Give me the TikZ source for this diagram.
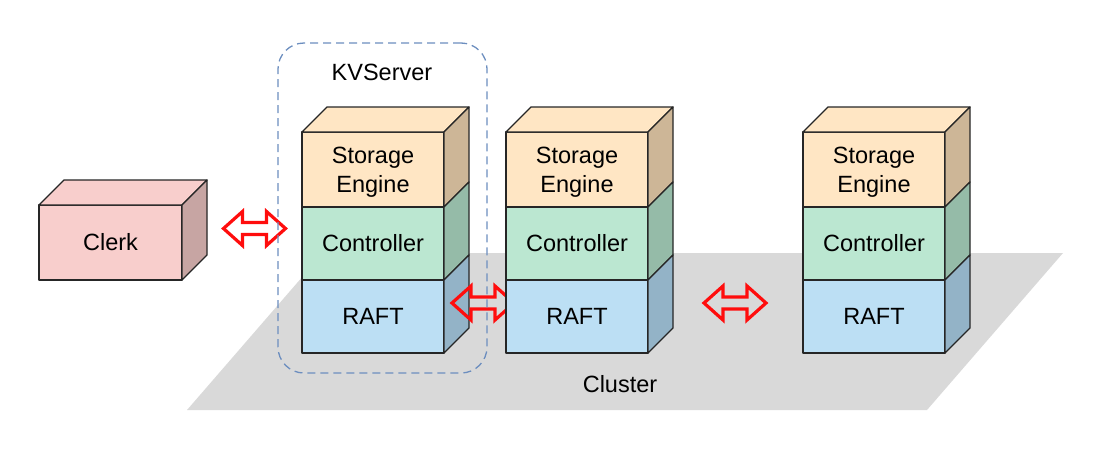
\documentclass[tikz,border=0pt]{standalone}
\usepackage{fontspec}
\setmainfont{Liberation Sans}
\usetikzlibrary{calc}
\definecolor{planegray}{HTML}{D9D9D9}
\definecolor{sefront}{HTML}{FFE6C4}
\definecolor{seside}{HTML}{CDB697}
\definecolor{ctfront}{HTML}{BBE7D1}
\definecolor{ctside}{HTML}{95BBA8}
\definecolor{rffront}{HTML}{BCDFF4}
\definecolor{rfside}{HTML}{93B3C7}
\definecolor{clfront}{HTML}{F8CECC}
\definecolor{clside}{HTML}{C7A5A3}
\definecolor{dashblue}{HTML}{6C8EBF}
\definecolor{arrowred}{HTML}{FF0D0D}
\newcommand\cubeside[2]{%
  \draw[face, fill=#2] (#1.north east) -- ($(#1.north east)+(25,-25)$) -- ($(#1.south east)+(25,-25)$) -- (#1.south east) -- cycle;}
\newcommand\cubetop[2]{%
  \draw[face, fill=#2] (#1.north west) -- ($(#1.north west)+(25,-25)$) -- ($(#1.north east)+(25,-25)$) -- (#1.north east) -- cycle;}
\newcommand\biarrowat[3]{%
  \begin{scope}[shift={(#2,#3)}]
    \coordinate (#1) at (0,0);
    \draw[biarrow] (-31,0) -- (-12,-17) -- (-12,-6) -- (12,-6) -- (12,-17) -- (31,0)
      -- (12,17) -- (12,6) -- (-12,6) -- (-12,17) -- cycle;
  \end{scope}}
\newcommand\stackat[2]{%
  \node[frontbox, fill=sefront, minimum height=75pt] (se#1) at (#2,132) {\raisebox{-2.5pt}[\height][\depth]{\begin{tabular}{@{}c@{}}Storage\\[-0.5pt]Engine\end{tabular}}};
  \node[frontbox, fill=ctfront, minimum height=73pt] (ct#1) at (#2,207) {Controller};
  \node[frontbox, fill=rffront, minimum height=73pt] (rf#1) at (#2,280) {RAFT};
  \cubetop{se#1}{sefront}
  \cubeside{se#1}{seside}
  \cubeside{ct#1}{ctside}
  \cubeside{rf#1}{rfside}}
\begin{document}
\begin{tikzpicture}[x=1pt,y=-1pt, font=\fontsize{23.5}{29}\selectfont,
  face/.style={draw=black!85, line width=1.3pt, line join=round},
  frontbox/.style={face, minimum width=142pt, inner sep=0pt, outer sep=0pt, anchor=north west},
  biarrow/.style={draw=arrowred, line width=3.2pt, line join=miter}]
\useasboundingbox (0,0) rectangle (1094,453);
% cluster plane
\fill[planegray] (323,253) -- (1063,253) -- (927,410) -- (187,410) -- cycle;
\node (cluster) at (620,384) {Cluster};
% clerk
\node[frontbox, fill=clfront, minimum width=143pt, minimum height=75pt] (clerk) at (39,205) {Clerk};
\cubetop{clerk}{clfront}
\cubeside{clerk}{clside}
% stacks
\stackat{a}{302}
\biarrowat{arrB}{483}{303}
\stackat{b}{506}
\stackat{c}{803}
\biarrowat{arrA}{254.5}{228.5}
\biarrowat{arrC}{735}{303}
% KVServer group
\node[draw=dashblue, line width=1.3pt, dash pattern=on 8pt off 5pt, rounded corners=26pt,
  minimum width=209pt, minimum height=330pt, inner sep=0pt] (kvs) at (382.5,208) {};
\node (kvlabel) at (382,72) {KVServer};
\end{tikzpicture}
\end{document}
